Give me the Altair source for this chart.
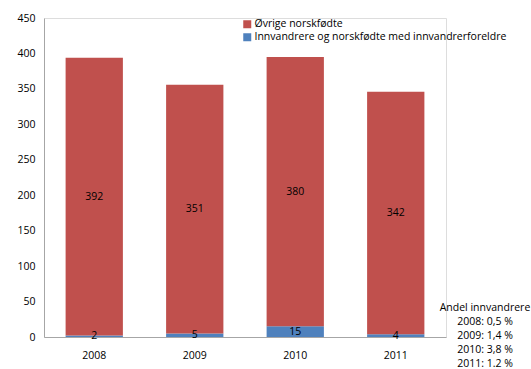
import altair as alt
import pandas as pd

years = ["2008", "2009", "2010", "2011"]
ovrige = [392, 351, 380, 342]
innvandrere = [2, 5, 15, 4]
series_names = ["Øvrige norskfødte", "Innvandrere og norskfødte med innvandrerforeldre"]
series_colors = ["#C0504D", "#4F81BD"]
y_ticks = [0, 50, 100, 150, 200, 250, 300, 350, 400, 450]
note_lines = ["Andel innvandrere", "2008: 0,5 %", "2009: 1,4 %", "2010: 3,8 %", "2011: 1.2 %"]

rows = []
for i, yr in enumerate(years):
    rows.append({"year": yr, "series": series_names[1], "value": innvandrere[i], "order": 0})
    rows.append({"year": yr, "series": series_names[0], "value": ovrige[i], "order": 1})
df = pd.DataFrame(rows)

FONT = "Open Sans"

base = alt.Chart(df).transform_stack(
    stack="value", groupby=["year"], as_=["y0", "y1"], sort=[alt.SortField("order", "ascending")]
).transform_calculate(mid="(datum.y0 + datum.y1) / 2")

x_enc = alt.X("year:N", sort=years, title=None,
              scale=alt.Scale(paddingInner=0.43, paddingOuter=0.215),
              axis=alt.Axis(labelAngle=0, ticks=False, domainColor="#A6A6A6",
                            labelFontSize=10.5, labelFont=FONT, labelColor="#000",
                            labelPadding=13))

y_axis = alt.Axis(values=y_ticks, grid=False, ticks=False, domainColor="#A6A6A6",
                  labelFontSize=10.5, labelFont=FONT, labelColor="#000",
                  labelPadding=9, labelOverlap=False)
y_scale = alt.Scale(domain=[0, 450], nice=False)

bars = base.mark_bar().encode(
    x=x_enc,
    y=alt.Y("y0:Q", title=None, scale=y_scale, axis=y_axis),
    y2="y1:Q",
    color=alt.Color("series:N", sort=series_names,
                    scale=alt.Scale(domain=series_names, range=series_colors),
                    legend=alt.Legend(title=None, orient="none", legendX=198, legendY=1,
                                      symbolType="square", symbolSize=64,
                                      symbolStrokeWidth=0, labelFontSize=10.5,
                                      labelFont=FONT, labelColor="#000", labelOffset=2,
                                      labelLimit=0, rowPadding=2)),
)

labels = base.mark_text(fontSize=10.5, font=FONT, color="#000", baseline="middle").encode(
    x=alt.X("year:N", sort=years, title=None, scale=alt.Scale(paddingInner=0.43, paddingOuter=0.215)),
    y=alt.Y("mid:Q", title=None, scale=y_scale, axis=y_axis),
    text="value:Q",
)

note = alt.Chart(pd.DataFrame({"t": ["\n".join(note_lines)]})).mark_text(
    align="center", baseline="top", lineBreak="\n", lineHeight=14,
    fontSize=10.5, font=FONT, color="#000"
).encode(x=alt.value(441), y=alt.value(285), text="t:N")

chart = alt.layer(bars, labels, note).properties(
    width=402, height=319,
    autosize=alt.AutoSizeParams(type="none"),
    padding={"left": 44, "top": 18, "right": 85, "bottom": 32},
).configure_view(strokeWidth=0).configure(background="white")

chart.save("out.html", embed_options={"renderer": "svg", "actions": False})
